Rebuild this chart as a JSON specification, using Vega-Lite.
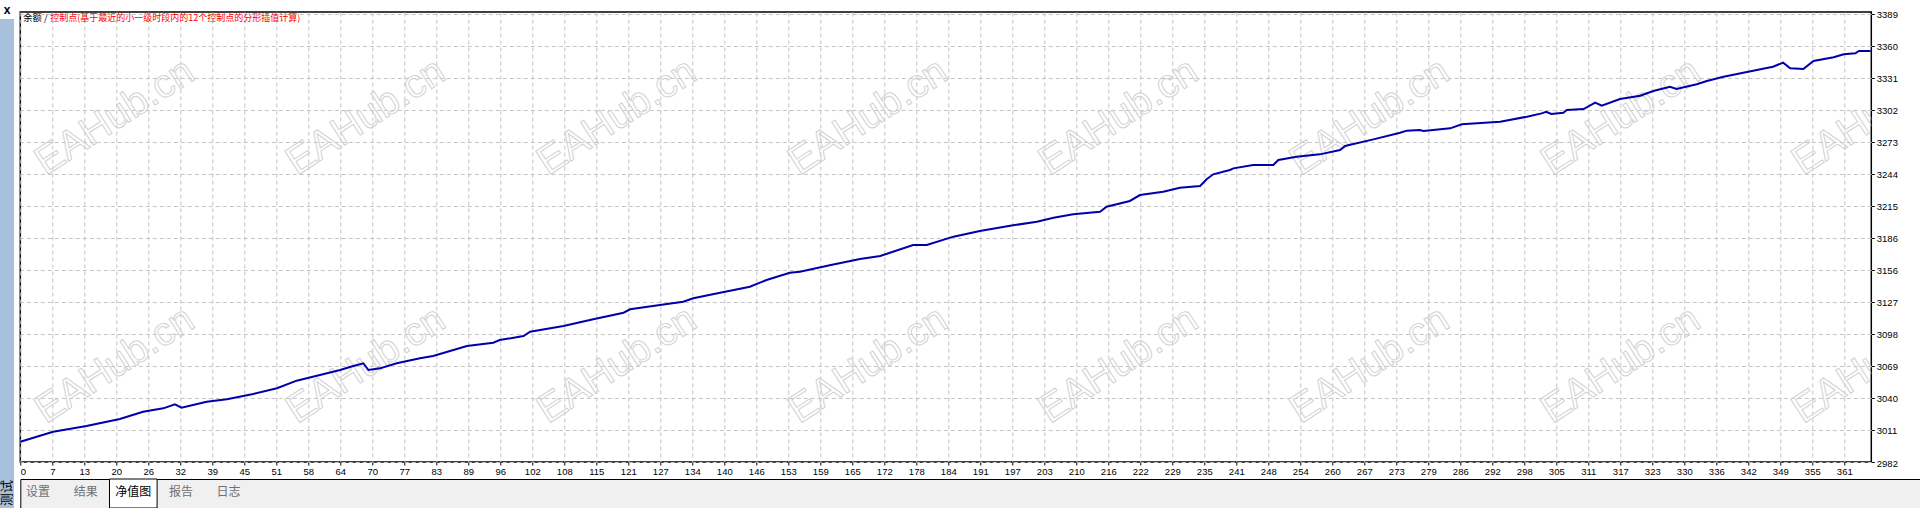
{
  "$schema": "https://vega.github.io/schema/vega-lite/v6.json",
  "background": "#ffffff",
  "padding": 0,
  "config": {"view": {"stroke": null}, "axis": {"labelOverlap": false}},
  "datasets": {
    "equity": [
      {"trade": 0, "balance": 3000.4}, {"trade": 6.5, "balance": 3009.5}, {"trade": 13.1, "balance": 3014.7},
      {"trade": 19.7, "balance": 3021.0}, {"trade": 24.3, "balance": 3027.6}, {"trade": 28.3, "balance": 3030.7},
      {"trade": 30.6, "balance": 3034.4}, {"trade": 31.9, "balance": 3031.3}, {"trade": 36.9, "balance": 3036.7},
      {"trade": 40.9, "balance": 3038.9}, {"trade": 46.1, "balance": 3043.7}, {"trade": 50.8, "balance": 3048.9},
      {"trade": 54.7, "balance": 3055.8}, {"trade": 59.3, "balance": 3061.0}, {"trade": 63.3, "balance": 3065.5},
      {"trade": 65.9, "balance": 3069.1}, {"trade": 67.9, "balance": 3071.6}, {"trade": 68.9, "balance": 3065.5},
      {"trade": 71.2, "balance": 3067.0}, {"trade": 74.5, "balance": 3071.6}, {"trade": 79.1, "balance": 3076.1},
      {"trade": 81.7, "balance": 3078.2}, {"trade": 88.4, "balance": 3087.3}, {"trade": 93.6, "balance": 3090.3},
      {"trade": 94.9, "balance": 3092.7}, {"trade": 99.6, "balance": 3096.3}, {"trade": 100.9, "balance": 3100.2},
      {"trade": 107.5, "balance": 3105.4}, {"trade": 113.4, "balance": 3111.5}, {"trade": 119.4, "balance": 3117.5},
      {"trade": 120.7, "balance": 3120.6}, {"trade": 126.6, "balance": 3124.5}, {"trade": 131.2, "balance": 3127.5},
      {"trade": 133.2, "balance": 3130.6}, {"trade": 138.5, "balance": 3135.6}, {"trade": 144.4, "balance": 3141.1},
      {"trade": 147.7, "balance": 3147.2}, {"trade": 152.3, "balance": 3153.8}, {"trade": 154.3, "balance": 3154.7},
      {"trade": 160.2, "balance": 3160.5}, {"trade": 166.2, "balance": 3166.2}, {"trade": 170.2, "balance": 3168.9},
      {"trade": 176.7, "balance": 3178.9}, {"trade": 179.4, "balance": 3178.9}, {"trade": 184.7, "balance": 3186.5},
      {"trade": 189.9, "balance": 3191.6}, {"trade": 196.5, "balance": 3196.8}, {"trade": 201.2, "balance": 3200.1},
      {"trade": 204.5, "balance": 3203.7}, {"trade": 208.4, "balance": 3206.8}, {"trade": 213.7, "balance": 3209.1},
      {"trade": 215.0, "balance": 3213.7}, {"trade": 219.6, "balance": 3218.9}, {"trade": 221.6, "balance": 3224.3},
      {"trade": 226.2, "balance": 3227.3}, {"trade": 229.5, "balance": 3230.9}, {"trade": 233.5, "balance": 3232.5},
      {"trade": 234.8, "balance": 3238.6}, {"trade": 236.1, "balance": 3243.1}, {"trade": 239.4, "balance": 3247.0},
      {"trade": 240.1, "balance": 3248.5}, {"trade": 244.0, "balance": 3251.5}, {"trade": 248.0, "balance": 3251.5},
      {"trade": 249.0, "balance": 3256.1}, {"trade": 252.6, "balance": 3259.1}, {"trade": 257.2, "balance": 3261.2},
      {"trade": 261.2, "balance": 3265.1}, {"trade": 262.2, "balance": 3268.8}, {"trade": 267.8, "balance": 3274.8},
      {"trade": 273.1, "balance": 3280.8}, {"trade": 274.4, "balance": 3282.7}, {"trade": 277.0, "balance": 3283.3},
      {"trade": 277.7, "balance": 3282.4}, {"trade": 283.0, "balance": 3284.8}, {"trade": 285.3, "balance": 3288.5},
      {"trade": 292.9, "balance": 3290.8}, {"trade": 298.2, "balance": 3295.4}, {"trade": 301.1, "balance": 3298.4},
      {"trade": 302.0, "balance": 3299.9}, {"trade": 303.0, "balance": 3297.8}, {"trade": 305.4, "balance": 3299.0},
      {"trade": 306.1, "balance": 3301.4}, {"trade": 309.4, "balance": 3302.3}, {"trade": 311.7, "balance": 3308.1},
      {"trade": 313.0, "balance": 3305.3}, {"trade": 316.6, "balance": 3311.4}, {"trade": 320.6, "balance": 3314.4},
      {"trade": 323.2, "balance": 3318.7}, {"trade": 326.5, "balance": 3322.6}, {"trade": 327.8, "balance": 3320.5},
      {"trade": 331.8, "balance": 3324.8}, {"trade": 333.8, "balance": 3327.8}, {"trade": 337.1, "balance": 3331.7},
      {"trade": 343.7, "balance": 3337.7}, {"trade": 346.9, "balance": 3340.7}, {"trade": 348.9, "balance": 3344.4},
      {"trade": 350.3, "balance": 3339.3}, {"trade": 352.9, "balance": 3338.6}, {"trade": 354.9, "balance": 3345.9},
      {"trade": 358.9, "balance": 3349.3}, {"trade": 360.9, "balance": 3352.0}, {"trade": 363.2, "balance": 3352.9},
      {"trade": 363.9, "balance": 3355.0}, {"trade": 366.2, "balance": 3355.0}
    ],
    "watermarks": [
      {"trade": 18.7, "balance": 3295.1}, {"trade": 68.4, "balance": 3295.1}, {"trade": 118.1, "balance": 3295.1},
      {"trade": 167.8, "balance": 3295.1}, {"trade": 217.4, "balance": 3295.1}, {"trade": 267.1, "balance": 3295.1},
      {"trade": 316.8, "balance": 3295.1}, {"trade": 366.5, "balance": 3295.1},
      {"trade": 18.7, "balance": 3070.0}, {"trade": 68.4, "balance": 3070.0}, {"trade": 118.1, "balance": 3070.0},
      {"trade": 167.8, "balance": 3070.0}, {"trade": 217.4, "balance": 3070.0}, {"trade": 267.1, "balance": 3070.0},
      {"trade": 316.8, "balance": 3070.0}, {"trade": 366.5, "balance": 3070.0}
    ],
    "tabs": [
      {"tab": "设置"}, {"tab": "结果"}, {"tab": "净值图"}, {"tab": "报告"}, {"tab": "日志"}
    ]
  },
  "bounds": "full",
  "spacing": 1.3,
  "hconcat": [
    {
      "bounds": "flush",
      "spacing": 0,
      "vconcat": [
        {
          "width": 14, "height": 19,
          "view": {"fill": "#ffffff", "stroke": null},
          "data": {"values": [{"label": "x"}]},
          "mark": {"type": "text", "font": "Liberation Sans", "fontSize": 12, "fontWeight": "bold", "color": "#000000"},
          "encoding": {"text": {"field": "label"}}
        },
        {
          "width": 14, "height": 489,
          "view": {"fill": "#a9c0dc", "stroke": null},
          "data": {"values": [{"label": "测试"}]},
          "mark": {"type": "text", "font": "Noto Sans CJK SC", "fontSize": 13, "angle": 270, "align": "left", "baseline": "middle", "dx": 2, "color": "#000000"},
          "encoding": {
            "y": {"datum": 0, "type": "quantitative", "scale": {"domain": [0, 1]}, "axis": null},
            "text": {"field": "label"}
          }
        }
      ]
    },
    {
      "bounds": "flush",
      "spacing": 0,
      "vconcat": [
        {
          "width": 1851, "height": 12,
          "view": {"fill": "#ffffff", "stroke": null},
          "data": {"values": []},
          "mark": "text",
          "encoding": {}
        },
        {
          "width": 1851, "height": 450,
          "view": {"stroke": "#000000", "strokeWidth": 1.5, "fill": "#ffffff"},
          "layer": [
            {
              "data": {"name": "watermarks"},
              "mark": {"type": "text", "font": "Liberation Sans", "fontSize": 40, "angle": -33, "align": "center", "baseline": "middle", "fill": "transparent", "stroke": "#d2d2d2", "strokeWidth": 1, "clip": true},
              "encoding": {
                "x": {"field": "trade", "type": "quantitative"},
                "y": {"field": "balance", "type": "quantitative"},
                "text": {"value": "EAHub.cn"}
              }
            },
            {
              "data": {"name": "equity"},
              "mark": {"type": "line", "color": "#0000aa", "strokeWidth": 2},
              "encoding": {
                "x": {
                  "field": "trade", "type": "quantitative",
                  "scale": {"domain": [0, 366.35], "nice": false, "zero": false},
                  "axis": {
                    "title": null, "tickCount": 200,
                    "values": [0, 6.3333, 12.6667, 19, 25.3333, 31.6667, 38, 44.3333, 50.6667, 57, 63.3333, 69.6667, 76, 82.3333, 88.6667, 95, 101.3333, 107.6667, 114, 120.3333, 126.6667, 133, 139.3333, 145.6667, 152, 158.3333, 164.6667, 171, 177.3333, 183.6667, 190, 196.3333, 202.6667, 209, 215.3333, 221.6667, 228, 234.3333, 240.6667, 247, 253.3333, 259.6667, 266, 272.3333, 278.6667, 285, 291.3333, 297.6667, 304, 310.3333, 316.6667, 323, 329.3333, 335.6667, 342, 348.3333, 354.6667, 361],
                    "labelExpr": "[0,7,13,20,26,32,39,45,51,58,64,70,77,83,89,96,102,108,115,121,127,134,140,146,153,159,165,172,178,184,191,197,203,210,216,222,229,235,241,248,254,260,267,273,279,286,292,298,305,311,317,323,330,336,342,349,355,361][round(datum.value*3/19)]",
                    "domain": false,
                    "grid": true, "gridColor": "#c4c4c4", "gridDash": [4, 3], "gridWidth": 1,
                    "ticks": true, "tickSize": 3, "tickColor": "#000000", "tickWidth": 1,
                    "labelFont": "Liberation Sans", "labelFontSize": 9.5, "labelColor": "#000000",
                    "labelPadding": 1, "labelOverlap": false, "labelSeparation": 0
                  }
                },
                "y": {
                  "field": "balance", "type": "quantitative",
                  "scale": {"domain": [2982, 3390.4], "nice": false, "zero": false},
                  "axis": {
                    "title": null, "orient": "right", "tickCount": 200,
                    "values": [2982, 3011.0714, 3040.1429, 3069.2143, 3098.2857, 3127.3571, 3156.4286, 3185.5, 3214.5714, 3243.6429, 3272.7143, 3301.7857, 3330.8571, 3359.9286, 3389],
                    "labelExpr": "format(datum.value, '.0f')",
                    "domain": false,
                    "grid": true, "gridColor": "#c4c4c4", "gridDash": [4, 3], "gridWidth": 1,
                    "ticks": true, "tickSize": 3, "tickColor": "#000000", "tickWidth": 1,
                    "labelFont": "Liberation Sans", "labelFontSize": 9.5, "labelColor": "#000000",
                    "labelPadding": 2, "labelOffset": 1, "labelOverlap": false, "labelSeparation": 0
                  }
                }
              }
            },
            {
              "data": {"values": [{"label": "余额 /"}]},
              "mark": {"type": "text", "font": "Noto Sans CJK SC", "fontSize": 9.3, "align": "left", "baseline": "middle", "dx": 3, "dy": 6, "color": "#000000"},
              "encoding": {
                "x": {"datum": 0, "type": "quantitative"},
                "y": {"datum": 3390.4, "type": "quantitative"},
                "text": {"field": "label"}
              }
            },
            {
              "data": {"values": [{"label": "控制点(基于最近的小一级时段内的12个控制点的分形插值计算)"}]},
              "mark": {"type": "text", "font": "Noto Sans CJK SC", "fontSize": 9, "align": "left", "baseline": "middle", "dx": 30, "dy": 6, "color": "#ff0000"},
              "encoding": {
                "x": {"datum": 0, "type": "quantitative"},
                "y": {"datum": 3390.4, "type": "quantitative"},
                "text": {"field": "label"}
              }
            }
          ]
        },
        {
          "width": 1851, "height": 17,
          "data": {"values": []},
          "mark": "text",
          "encoding": {}
        },
        {
          "width": 1900, "height": 29,
          "view": {"fill": "#f0f0f0", "stroke": "#000000", "strokeWidth": 1},
          "data": {"name": "tabs"},
          "encoding": {
            "x": {"field": "tab", "type": "nominal", "scale": {"domain": ["设置", "结果", "净值图", "报告", "日志"], "range": [-6, 232], "paddingInner": 0, "paddingOuter": 0}, "axis": null}
          },
          "layer": [
            {
              "transform": [{"filter": "datum.tab === '净值图'"}],
              "mark": {"type": "rect", "fill": "#ffffff", "stroke": "#000000", "strokeWidth": 1}
            },
            {
              "mark": {"type": "text", "font": "Noto Sans CJK SC", "fontSize": 12, "dy": -2},
              "encoding": {
                "text": {"field": "tab"},
                "color": {"condition": {"test": "datum.tab === '净值图'", "value": "#000000"}, "value": "#707070"}
              }
            }
          ]
        }
      ]
    }
  ]
}
